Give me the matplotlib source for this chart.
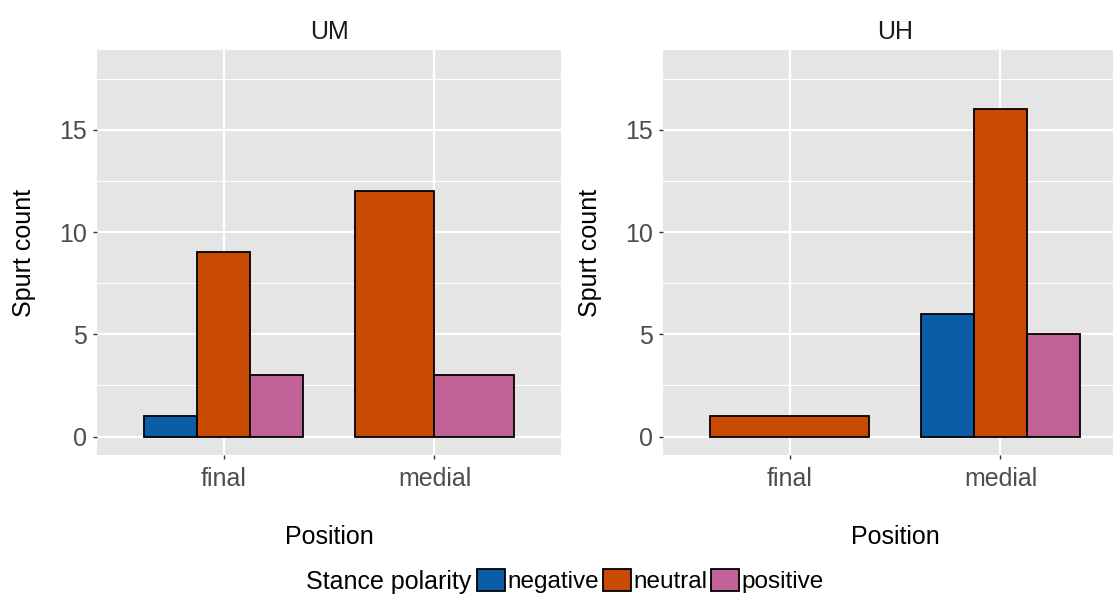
import numpy as np
import matplotlib.pyplot as plt
from matplotlib.patches import Patch

plt.rcParams['font.family'] = ['Liberation Sans', 'DejaVu Sans']

positions = ['final', 'medial']
polarity = ['negative', 'neutral', 'positive']
colors = ['#0B5EA5', '#C94A03', '#C06296']

um_counts = {'negative': [1, 0], 'neutral': [9, 12], 'positive': [3, 3]}
uh_counts = {'negative': [0, 6], 'neutral': [1, 16], 'positive': [0, 5]}

panels = [('UM', um_counts), ('UH', uh_counts)]

W, H = 1113, 600
fig = plt.figure(figsize=(W / 100, H / 100), dpi=100)

panel_left = [97, 663]
panel_w = 464
top, bottom = 50, 455
fs = 18
grey = '#4D4D4D'


def draw_panel(ax, counts):
    ax.set_facecolor('#E5E5E5')
    for s in ax.spines.values():
        s.set_visible(False)
    x = np.arange(1, len(positions) + 1)
    for i, xc in enumerate(x):
        present = [p for p in polarity if counts[p][i] > 0]
        w = 0.75 / len(present)
        start = xc - 0.375
        for j, p in enumerate(present):
            ax.bar(start + w * (j + 0.5), counts[p][i], w,
                   color=colors[polarity.index(p)], edgecolor='black',
                   linewidth=1.3, zorder=3)
    ax.set_xlim(0.4, 2.6)
    ax.set_ylim(-0.9, 18.9)
    ax.set_xticks(x)
    ax.set_xticklabels(positions)
    ax.set_yticks([0, 5, 10, 15])
    ax.set_yticks([2.5, 7.5, 12.5, 17.5], minor=True)
    ax.grid(which='major', color='white', linewidth=1.6, zorder=0)
    ax.grid(which='minor', axis='y', color='white', linewidth=0.8, zorder=0)
    ax.tick_params(which='major', length=3, width=1, color='#333333',
                   labelsize=fs, labelcolor=grey)
    ax.tick_params(axis='x', pad=6)
    ax.tick_params(axis='y', pad=4)
    ax.tick_params(which='minor', length=0)
    ax.set_axisbelow(True)


for k, (title, counts) in enumerate(panels):
    left = panel_left[k]
    ax = fig.add_axes([left / W, 1 - bottom / H, panel_w / W, (bottom - top) / H])
    draw_panel(ax, counts)
    cx = (left + panel_w / 2) / W
    fig.text(cx, 1 - 32 / H, title, ha='center', va='center', fontsize=fs, color='#1A1A1A')
    fig.text(cx, 1 - 537 / H, 'Position', ha='center', va='center', fontsize=fs, color='black')
    fig.text((left - 73) / W, 1 - (top + bottom) / 2 / H, 'Spurt count', rotation=90,
             ha='center', va='center', fontsize=fs, color='black')

fig.text(306 / W, 1 - 582 / H, 'Stance polarity', ha='left', va='center', fontsize=fs)
handles = [Patch(facecolor=c, edgecolor='black', linewidth=1.3) for c in colors]
fig.legend(handles, polarity, loc='center left', bbox_to_anchor=(477 / W, 1 - 581 / H),
           ncol=3, frameon=False, fontsize=17.5, handlelength=1.15, handleheight=1.0,
           handletextpad=0.1, columnspacing=0.15, borderpad=0, borderaxespad=0)

fig.savefig('out.png', dpi=100)
